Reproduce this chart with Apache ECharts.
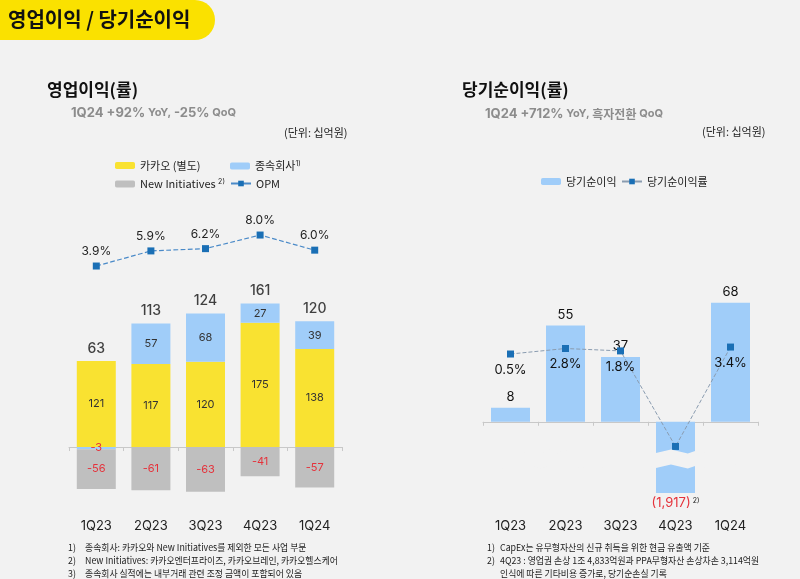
<!DOCTYPE html>
<html><head><meta charset="utf-8">
<script src="https://cdn.jsdelivr.net/npm/echarts@6/dist/echarts.min.js"></script>
<style>html,body{margin:0;padding:0;background:#F2F2F2}#c{width:800px;height:579px}</style>
</head><body><div id="c"></div>
<script>
// ---- data ----
const quarters = ['1Q23', '2Q23', '3Q23', '4Q23', '1Q24'];
const kakaoOp = [121, 117, 120, 175, 138];      // 카카오 (별도)
const subsOp = [-3, 57, 68, 27, 39];            // 종속회사
const niOp = [-56, -61, -63, -41, -57];         // New Initiatives
const totalOp = [63, 113, 124, 161, 120];       // 영업이익 합계
const opm = [3.9, 5.9, 6.2, 8.0, 6.0];          // OPM (%)
const netIncome = [8, 55, 37, -1917, 68];       // 당기순이익
const netMargin = [0.5, 2.8, 1.8, -38, 3.4];    // 당기순이익률 (%), 4Q23 unlabeled, estimated from position
const netMarginLabeled = [true, true, true, false, true];
const leftNotes = ['종속회사: 카카오와 New Initiatives를 제외한 모든 사업 부문',
  'New Initiatives: 카카오엔터프라이즈, 카카오브레인, 카카오헬스케어',
  '종속회사 실적에는 내부거래 관련 조정 금액이 포함되어 있음'];
const rightNotes = ['CapEx는 유무형자산의 신규 취득을 위한 현금 유출액 기준',
  '4Q23 : 영업권 손상 1조 4,833억원과 PPA무형자산 손상차손 3,114억원',
  '인식에 따른 기타비용 증가로, 당기순손실 기록'];
const rightNoteNums = ['1)', '2)', ''];

const FONT = 'Inter, "Noto Sans CJK KR", sans-serif';
const KFONT = '"Noto Sans CJK KR", sans-serif';
const YELLOW = '#F9E231', BLUE = '#A0CDF9', GRAY = '#BFBFBF', RED = '#E5323B';

const chart = echarts.init(document.getElementById('c'), null, {renderer: 'canvas'});

const signRich = {
  pos: {color: '#333', fontSize: 11, fontFamily: FONT},
  neg: {color: RED, fontSize: 11, fontFamily: FONT}
};
const signFmt = p => (p.value < 0 ? '{neg|' : '{pos|') + p.value + '}';

const legendNames = {
  '종속회사': '종속회사{sup|1)}',
  'New Initiatives': 'New Initiatives {sup|2)}'
};
const legendBase = {
  itemWidth: 20, itemHeight: 7, itemGap: 0, orient: 'horizontal',
  textStyle: {fontSize: 11, color: '#222', fontFamily: KFONT,
    rich: {sup: {fontSize: 7, verticalAlign: 'top', color: '#222', fontFamily: FONT, padding: [0, 0, 5, 0]}}},
  formatter: n => legendNames[n] || n
};
const mkLegend = (name, left, top) => Object.assign({}, legendBase, {data: [name], left, top});

const subStyle = {
  a: {fontSize: 13, fontWeight: 'bold', fill: '#8C8C8C', fontFamily: FONT},
  b: {fontSize: 11, fontWeight: 'bold', fill: '#8C8C8C', fontFamily: FONT},
  k: {fontSize: 12, fontWeight: 'bold', fill: '#8C8C8C', fontFamily: KFONT}
};
const txt = (x, y, text, style, extra) => Object.assign({
  type: 'text', x, y,
  style: Object.assign({text, verticalAlign: 'middle', fill: '#222', fontFamily: KFONT}, style)
}, extra || {});
const note = (x, y, text) => txt(x, y, text, {fontSize: 9.5, fill: '#222'}, {scaleX: 0.93});
const noteRows = [547, 560, 573];
const notes = [];
leftNotes.forEach((t, i) => { notes.push(note(68, noteRows[i], (i + 1) + ')')); notes.push(note(85, noteRows[i], t)); });
rightNotes.forEach((t, i) => { if (rightNoteNums[i]) notes.push(note(487, noteRows[i], rightNoteNums[i])); notes.push(note(500, noteRows[i], t)); });

const option = {
  backgroundColor: '#F2F2F2',
  animation: false,
  textStyle: {fontFamily: FONT},
  graphic: [
    {type: 'rect', shape: {x: -20, y: 0, width: 235, height: 40, r: 20}, style: {fill: '#FAE100'}},
    txt(8, 19, '영업이익 / 당기순이익', {fontSize: 20, fontWeight: 'bold', fill: '#111'}),
    txt(47, 90, '영업이익(률)', {fontSize: 17, fontWeight: 'bold', fill: '#111'}),
    txt(71, 113, '{a|1Q24 +92%} {b|YoY,} {a|-25%} {b|QoQ}', {rich: subStyle}),
    txt(284, 133, '(단위: 십억원)', {fontSize: 11}),
    txt(462, 90, '당기순이익(률)', {fontSize: 17, fontWeight: 'bold', fill: '#111'}),
    txt(485, 114, '{a|1Q24 +712%} {b|YoY,} {k|흑자전환} {b|QoQ}', {rich: subStyle}),
    txt(702, 132, '(단위: 십억원)', {fontSize: 11})
  ].concat(notes),
  legend: [
    mkLegend('카카오 (별도)', 110, 155),
    mkLegend('종속회사', 225, 155),
    mkLegend('New Initiatives', 110, 173),
    mkLegend('OPM', 225, 173),
    mkLegend('당기순이익', 536, 171),
    mkLegend('당기순이익률', 616, 171)
  ],
  grid: [
    {left: 69, right: 458, top: 215, bottom: 79, outerBoundsMode: 'none', containLabel: false},
    {left: 483, right: 42, top: 215, bottom: 79, outerBoundsMode: 'none', containLabel: false}
  ],
  xAxis: [0, 1].map(g => ({
    gridIndex: g, type: 'category', data: quarters,
    axisLine: {onZero: true, onZeroAxisIndex: g === 0 ? 0 : 2, lineStyle: {color: '#C8C8C8', width: 1}},
    axisTick: {show: true, length: 4, lineStyle: {color: '#C8C8C8'}},
    axisLabel: {margin: 20, fontSize: 13, color: '#222', fontFamily: FONT}
  })),
  yAxis: [
    {gridIndex: 0, type: 'value', min: -74.6, max: 326.8, show: false},
    {gridIndex: 0, type: 'value', min: -27.05, max: 10.65, show: false},
    {gridIndex: 1, type: 'value', min: -1921, max: 118,
      axisLine: {show: false}, axisTick: {show: false}, axisLabel: {show: false}, splitLine: {show: false},
      breaks: [{start: -1902, end: -17, gap: '5.3%'}],
      breakArea: {show: true, itemStyle: {color: '#F2F2F2', borderColor: '#FFFFFF', borderWidth: 0, opacity: 1},
        zigzagAmplitude: 2, zigzagZ: 100, expandOnClick: false}
    },
    {gridIndex: 1, type: 'value', min: -60.3, max: 58.4, show: false}
  ],
  series: [
    {type: 'bar', name: '카카오 (별도)', stack: 'op', xAxisIndex: 0, yAxisIndex: 0, data: kakaoOp, barWidth: 39,
      itemStyle: {color: YELLOW}, label: {show: true, position: 'inside', formatter: signFmt, rich: signRich}},
    {type: 'bar', name: '종속회사', stack: 'op', xAxisIndex: 0, yAxisIndex: 0, data: subsOp, barWidth: 39,
      itemStyle: {color: BLUE}, label: {show: true, position: 'inside', formatter: signFmt, rich: signRich}},
    {type: 'bar', name: 'New Initiatives', stack: 'op', xAxisIndex: 0, yAxisIndex: 0, data: niOp, barWidth: 39,
      itemStyle: {color: GRAY}, label: {show: true, position: 'inside', formatter: signFmt, rich: signRich}},
    {type: 'scatter', name: 'total', xAxisIndex: 0, yAxisIndex: 0, symbolSize: 1, silent: true,
      data: quarters.map((q, i) => kakaoOp[i] + Math.max(subsOp[i], 0)),
      itemStyle: {color: 'rgba(0,0,0,0)'},
      label: {show: true, position: 'top', distance: 5, formatter: p => totalOp[p.dataIndex],
        fontSize: 14, fontWeight: 500, color: '#111', fontFamily: FONT}},
    {type: 'line', name: 'OPM', xAxisIndex: 0, yAxisIndex: 1, data: opm, z: 5,
      symbol: 'rect', symbolSize: 7, itemStyle: {color: '#1A6FB5'},
      lineStyle: {type: 'dashed', color: '#4A8AC8', width: 1.2},
      label: {show: true, position: 'top', distance: 5, formatter: p => p.value.toFixed(1) + '%',
        fontSize: 12, color: '#222', fontFamily: FONT}},
    {type: 'bar', name: '당기순이익', xAxisIndex: 1, yAxisIndex: 2, barWidth: 39,
      data: netIncome.map(v => ({value: v, label: {position: v < 0 ? 'bottom' : 'top'}})),
      itemStyle: {color: BLUE},
      label: {show: true, distance: 4,
        formatter: p => p.value < 0 ? '{neg|(' + Math.abs(p.value).toLocaleString('en-US') + ')}{sup| 2)}' : '{pos|' + p.value + '}',
        rich: {pos: {fontSize: 13, color: '#111', fontFamily: FONT},
          neg: {fontSize: 13, color: RED, fontFamily: FONT},
          sup: {fontSize: 7, color: '#222', verticalAlign: 'top', padding: [0, 0, 6, 0], fontFamily: FONT}}}},
    {type: 'line', name: '당기순이익률', xAxisIndex: 1, yAxisIndex: 3, z: 5,
      data: netMargin.map((v, i) => ({value: v, label: {show: netMarginLabeled[i]}})),
      symbol: 'rect', symbolSize: 7, itemStyle: {color: '#1A6FB5'},
      lineStyle: {type: 'dashed', color: '#8A9CB0', width: 1},
      label: {show: true, position: 'bottom', distance: 6, formatter: p => p.value.toFixed(1) + '%',
        fontSize: 13, color: '#111', fontFamily: FONT}}
  ]
};
chart.setOption(option);
</script>
</body></html>
